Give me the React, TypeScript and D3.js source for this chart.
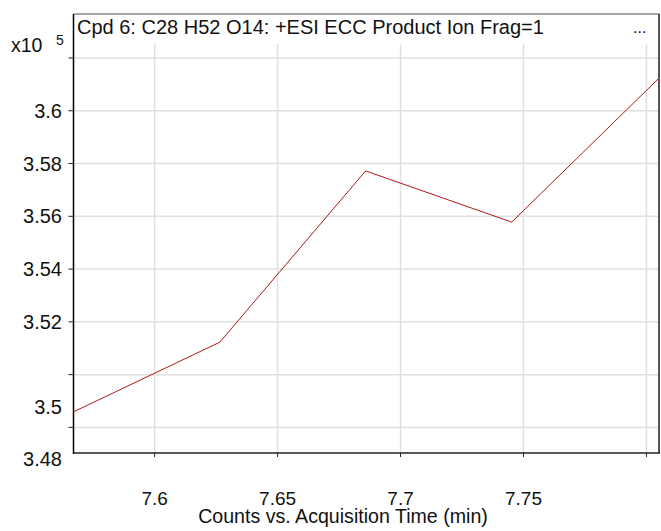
import React from "react";
import * as d3 from "d3";

// acquisition time (min) and counts (x10^5)
const times = [7.567, 7.6265, 7.6858, 7.7452, 7.8047];
const counts = [3.4859, 3.5123, 3.5772, 3.5578, 3.612];

const xTicks = [7.6, 7.65, 7.7, 7.75, 7.8];
const xTickLabels = ["7.6", "7.65", "7.7", "7.75", ""];
const yTicks = [3.48, 3.5, 3.52, 3.54, 3.56, 3.58, 3.6, 3.62];
const yTickLabels = ["3.48", "3.5", "3.52", "3.54", "3.56", "3.58", "3.6", ""];

const title = "Cpd 6: C28 H52 O14: +ESI ECC Product Ion Frag=1";
const xTitle = "Counts vs. Acquisition Time (min)";

const width = 661;
const height = 531;
const plot = { left: 73.5, right: 658, top: 44, bottom: 453, frameTop: 14 };
const font = "'Liberation Sans', Arial, sans-serif";

export default function App() {
  const x = d3
    .scaleLinear()
    .domain([times[0], times[times.length - 1]])
    .range([plot.left, plot.right]);
  const y = d3.scaleLinear().domain([3.4703, 3.6253]).range([plot.bottom, plot.top]);

  const points = times.map((t, i) => ({ t, v: counts[i] }));
  const line = d3
    .line<{ t: number; v: number }>()
    .x((d) => x(d.t))
    .y((d) => y(d.v));

  return (
    <svg
      width={width}
      height={height}
      style={{ position: "absolute", left: 0, top: 0, background: "#fff" }}
      fontFamily={font}
    >
      {/* grid */}
      {xTicks.map((t) => (
        <line
          key={"gx" + t}
          x1={x(t)}
          x2={x(t)}
          y1={plot.top}
          y2={plot.bottom}
          stroke="#e0e0e0"
          strokeWidth={1.5}
        />
      ))}
      {yTicks.map((v) => (
        <line
          key={"gy" + v}
          x1={plot.left}
          x2={plot.right}
          y1={y(v)}
          y2={y(v)}
          stroke="#e0e0e0"
          strokeWidth={1.5}
        />
      ))}

      {/* frame */}
      <line x1={plot.left} x2={plot.right + 2} y1={plot.frameTop} y2={plot.frameTop} stroke="#888" strokeWidth={1.5} />
      <line x1={plot.right + 1} x2={plot.right + 1} y1={plot.frameTop} y2={plot.bottom} stroke="#555" strokeWidth={2} />
      <line x1={plot.left} x2={plot.left} y1={plot.frameTop} y2={plot.bottom + 1} stroke="#000" strokeWidth={1.5} />
      <line x1={plot.left} x2={plot.right + 2} y1={plot.bottom} y2={plot.bottom} stroke="#222" strokeWidth={1.5} />

      {/* data */}
      <path d={line(points) ?? ""} fill="none" stroke="#b01818" strokeWidth={1} />

      {/* x axis */}
      {xTicks.map((t, i) => (
        <g key={"xt" + t}>
          <line x1={x(t)} x2={x(t)} y1={plot.bottom} y2={plot.bottom + 4} stroke="#222" />
          <text x={x(t)} y={504.5} textAnchor="middle" fontSize={19} fill="#111">
            {xTickLabels[i]}
          </text>
        </g>
      ))}
      <text x={343} y={523} textAnchor="middle" fontSize={19.6} fill="#111">
        {xTitle}
      </text>

      {/* y axis */}
      {yTicks.map((v, i) => (
        <g key={"yt" + v}>
          <line x1={plot.left - 5} x2={plot.left} y1={y(v)} y2={y(v)} stroke="#222" />
          <text
            x={62}
            y={y(v) + (v < 3.51 ? 32 : 0) + 7}
            textAnchor="end"
            fontSize={20}
            fill="#111"
          >
            {yTickLabels[i]}
          </text>
        </g>
      ))}
      <text x={11} y={51.5} fontSize={19.5} fill="#111">
        x10
      </text>
      <text x={56} y={45} fontSize={14} fill="#111">
        5
      </text>

      {/* title */}
      <text x={77} y={34} fontSize={20} fill="#111">
        {title}
      </text>
      <text x={633} y={33} fontSize={16} fill="#111">
        ...
      </text>
    </svg>
  );
}
